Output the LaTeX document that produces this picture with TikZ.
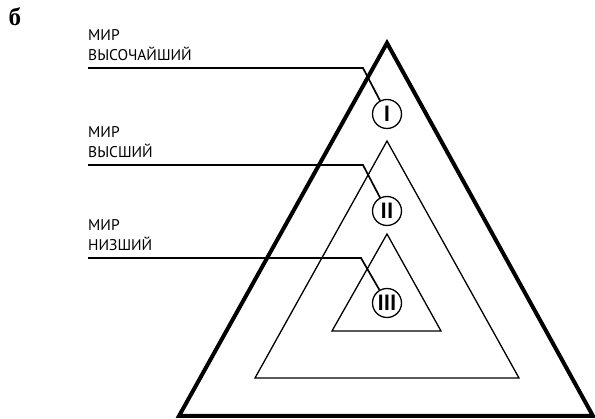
\documentclass[tikz,border=0pt]{standalone}
\usepackage{fontspec}
\setmainfont{PT Sans}
\newfontfamily\serifcyr{Liberation Serif}
\usetikzlibrary{positioning}

\tikzset{
  mirlabel/.style={anchor=south west, inner xsep=0pt, inner ysep=7pt, align=left, font=\fontsize{15.5}{20}\selectfont},
  numcircle/.style={circle, draw, line width=1.3pt, minimum size=29pt, inner sep=0pt, font=\fontsize{22}{22}\selectfont\bfseries},
  leader/.style={line width=1.7pt},
}

\begin{document}
\begin{tikzpicture}[x=1pt, y=-1pt, line join=miter]
        \useasboundingbox (0,0) rectangle (595,419);

        % Буква схемы
        \node (letter) at (15,17) {\serifcyr\fontsize{25}{25}\selectfont\bfseries б};

        % Треугольники
        \draw[line width=4pt] (387,43) -- (593,416) -- (179,416) -- cycle;
        \draw[line width=1.3pt] (387,141) -- (519,378) -- (255,378) -- cycle;
        \draw[line width=1.3pt] (387,234) -- (441,331) -- (332,331) -- cycle;

        % Круги с номерами
        \node[numcircle, fill=white] (c1) at (387,114) {I};
        \node[numcircle, fill=white] (c2) at (387,211) {II};
        \node[numcircle, fill=white] (c3) at (387,303) {III};

        % Подписи
        \node[mirlabel] (lab1) at (88,68) {МИР\\ВЫСОЧАЙШИЙ};
        \node[mirlabel] (lab2) at (88,165) {МИР\\ВЫСШИЙ};
        \node[mirlabel] (lab3) at (88,258) {МИР\\НИЗШИЙ};

        \coordinate (k1) at (363,68);
        \coordinate (k2) at (363,165);
        \coordinate (k3) at (361,258);

        \draw[leader] (lab1.south west) -- (k1) -- (c1);
        \draw[leader] (lab2.south west) -- (k2) -- (c2);
        \draw[leader] (lab3.south west) -- (k3) -- (c3);
    \end{tikzpicture}
\end{document}
